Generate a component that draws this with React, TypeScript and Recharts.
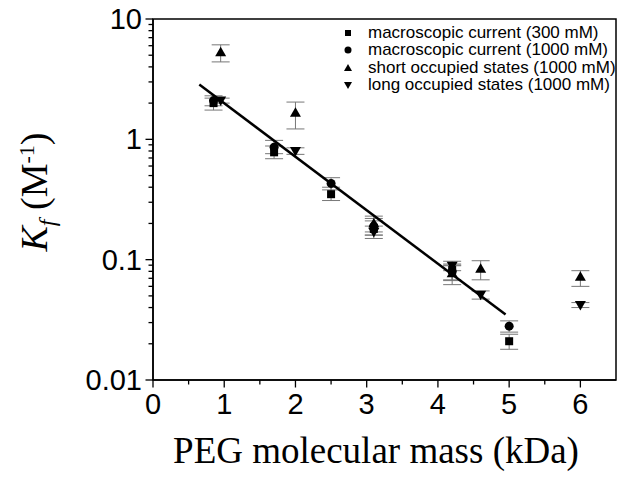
import {
  ScatterChart,
  Scatter,
  XAxis,
  YAxis,
  ErrorBar,
  ReferenceArea,
  Legend,
  Label,
} from "recharts";

// PEG molecular mass (kDa) for each series
const macro300X = [0.85, 1.7, 2.5, 3.1, 4.2, 5.0];
const macro300Y = [2.0, 0.78, 0.35, 0.18, 0.082, 0.021];
const macro300Err = [
  [0.25, 0.2],
  [0.09, 0.1],
  [0.04, 0.05],
  [0.02, 0.03],
  [0.015, 0.01],
  [0.003, 0.003],
];

const macro1000X = [0.85, 1.7, 2.5, 3.1, 4.2, 5.0];
const macro1000Y = [2.1, 0.86, 0.43, 0.19, 0.08, 0.028];
const macro1000Err = [
  [0.2, 0.2],
  [0.1, 0.12],
  [0.05, 0.05],
  [0.03, 0.03],
  [0.012, 0.01],
  [0.003, 0.003],
];

const shortX = [0.95, 2.0, 3.1, 4.2, 4.6, 6.0];
const shortY = [5.3, 1.66, 0.2, 0.077, 0.084, 0.072];
const shortErr = [
  [0.9, 0.8],
  [0.44, 0.38],
  [0.03, 0.03],
  [0.015, 0.012],
  [0.016, 0.014],
  [0.012, 0.009],
];

const longX = [0.95, 2.0, 3.1, 4.2, 4.6, 6.0];
const longY = [2.1, 0.8, 0.17, 0.089, 0.051, 0.042];
const longErr = [
  [0.1, 0.1],
  [0.05, 0.05],
  [0.02, 0.02],
  [0.008, 0.008],
  [0.004, 0.004],
  [0.002, 0.002],
];

// linear fit in log space, end points
const fitX = [0.65, 4.95];
const fitY = [2.85, 0.035];

const seriesNames = [
  "macroscopic current (300 mM)",
  "macroscopic current (1000 mM)",
  "short occupied states (1000 mM)",
  "long occupied states (1000 mM)",
];

const xTicks = [0, 0.5, 1, 1.5, 2, 2.5, 3, 3.5, 4, 4.5, 5, 5.5, 6];
const xLabels = ["0", "1", "2", "3", "4", "5", "6"];

const yTicks = [
  0.01, 0.02, 0.03, 0.04, 0.05, 0.06, 0.07, 0.08, 0.09,
  0.1, 0.2, 0.3, 0.4, 0.5, 0.6, 0.7, 0.8, 0.9,
  1, 2, 3, 4, 5, 6, 7, 8, 9, 10,
];
const yMajor = [0.01, 0.1, 1, 10];
const yLabels = ["0.01", "0.1", "1", "10"];

const toPoints = (xs: number[], ys: number[], errs?: number[][]) =>
  xs.map((x, i) => ({ x, y: ys[i], err: errs ? errs[i] : undefined }));

const sans = "'Liberation Sans', Arial, sans-serif";
const serif = "'Liberation Serif', 'Times New Roman', serif";

const Square = ({ cx, cy }: any) => (
  <rect x={cx - 4} y={cy - 4} width={8} height={8} fill="#000" />
);
const Circle = ({ cx, cy }: any) => <circle cx={cx} cy={cy} r={4.5} fill="#000" />;
const TriUp = ({ cx, cy }: any) => (
  <path d={`M${cx},${cy - 5.5} L${cx + 5.5},${cy + 4} L${cx - 5.5},${cy + 4} Z`} fill="#000" />
);
const TriDown = ({ cx, cy }: any) => (
  <path d={`M${cx},${cy + 5.5} L${cx + 5.5},${cy - 4} L${cx - 5.5},${cy - 4} Z`} fill="#000" />
);
const NoDot = () => <g />;

const legendIcons = [
  <rect x={2} y={2} width={6} height={6} fill="#000" />,
  <circle cx={5} cy={5} r={3.5} fill="#000" />,
  <path d="M5,1 L9,8 L1,8 Z" fill="#000" />,
  <path d="M5,9 L9,2 L1,2 Z" fill="#000" />,
];

const renderLegend = () => (
  <div style={{ fontFamily: sans, fontSize: 17, lineHeight: "17.4px", color: "#000" }}>
    {seriesNames.map((name, i) => (
      <div key={name} style={{ display: "flex", alignItems: "center", whiteSpace: "nowrap" }}>
        <svg width={10} height={10} style={{ marginRight: 15 }}>
          {legendIcons[i]}
        </svg>
        {name}
      </div>
    ))}
  </div>
);

const XTick = ({ x, y, payload }: any) => {
  const v = payload.value;
  const major = Number.isInteger(v);
  return (
    <g>
      <line x1={x} x2={x} y1={y} y2={y + (major ? 7.5 : 4.5)} stroke="#000" strokeWidth={1.3} />
      {major && (
        <text x={x} y={y + 34} textAnchor="middle" fontFamily={sans} fontSize={29} fill="#000">
          {xLabels[v]}
        </text>
      )}
    </g>
  );
};

const YTick = ({ x, y, payload }: any) => {
  const v = payload.value;
  const idx = yMajor.indexOf(v);
  const major = idx >= 0;
  return (
    <g>
      <line x1={x - (major ? 7.5 : 4.5)} x2={x} y1={y} y2={y} stroke="#000" strokeWidth={1.3} />
      {major && (
        <text x={x - 11} y={y + 10} textAnchor="end" fontFamily={sans} fontSize={29} fill="#000">
          {yLabels[idx]}
        </text>
      )}
    </g>
  );
};

const YTitle = () => (
  <text
    x={47}
    y={192}
    transform="rotate(-90, 47, 192)"
    textAnchor="middle"
    fontFamily={serif}
    fontSize={38}
    fill="#000"
  >
    <tspan fontStyle="italic">K</tspan>
    <tspan fontStyle="italic" fontSize={24} dy={8}>f</tspan>
    <tspan dy={-8}> (M</tspan>
    <tspan fontSize={22} dy={-13}>-1</tspan>
    <tspan dy={13}>)</tspan>
  </text>
);

const XTitle = () => (
  <text x={376} y={463} textAnchor="middle" fontFamily={serif} fontSize={37} fill="#000">
    PEG molecular mass (kDa)
  </text>
);

export default function App() {
  const errProps = { dataKey: "err", direction: "y" as const, width: 9, stroke: "#777", strokeWidth: 1 };

  return (
    <div style={{ position: "absolute", left: 0, top: 0, background: "#fff" }}>
      <ScatterChart width={619} height={479} margin={{ top: 19, right: 3, bottom: 0, left: 0 }}>
        <XAxis
          type="number"
          dataKey="x"
          domain={[0, 6.5]}
          ticks={xTicks}
          interval={0}
          allowDataOverflow
          height={99}
          tickSize={0}
          tickMargin={0}
          tick={<XTick />}
          axisLine={{ stroke: "#000", strokeWidth: 1.5 }}
        >
          <Label content={<XTitle />} />
        </XAxis>
        <YAxis
          type="number"
          dataKey="y"
          scale="log"
          domain={[0.01, 10]}
          ticks={yTicks}
          interval={0}
          allowDataOverflow
          width={153}
          tickSize={0}
          tickMargin={0}
          tick={<YTick />}
          axisLine={{ stroke: "#000", strokeWidth: 1.5 }}
        >
          <Label content={<YTitle />} />
        </YAxis>
        <ReferenceArea x1={0} x2={6.5} y1={0.01} y2={10} fill="none" stroke="#000" strokeWidth={1.5} />

        <Scatter
          data={toPoints(fitX, fitY)}
          line={{ stroke: "#000", strokeWidth: 2.5 }}
          shape={<NoDot />}
          isAnimationActive={false}
        />
        <Scatter data={toPoints(macro300X, macro300Y, macro300Err)} shape={<Square />} isAnimationActive={false}>
          <ErrorBar {...errProps} />
        </Scatter>
        <Scatter data={toPoints(macro1000X, macro1000Y, macro1000Err)} shape={<Circle />} isAnimationActive={false}>
          <ErrorBar {...errProps} />
        </Scatter>
        <Scatter data={toPoints(shortX, shortY, shortErr)} shape={<TriUp />} isAnimationActive={false}>
          <ErrorBar {...errProps} />
        </Scatter>
        <Scatter data={toPoints(longX, longY, longErr)} shape={<TriDown />} isAnimationActive={false}>
          <ErrorBar {...errProps} />
        </Scatter>

        <Legend
          layout="horizontal"
          verticalAlign="middle"
          align="center"
          content={renderLegend}
          wrapperStyle={{ top: 24, left: 343, width: "auto" }}
        />
      </ScatterChart>
    </div>
  );
}
